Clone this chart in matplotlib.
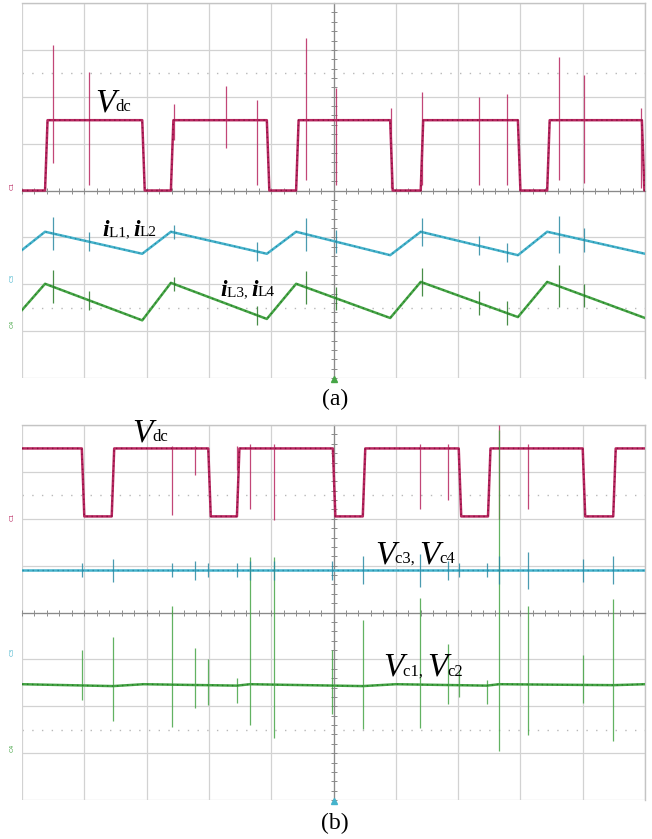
import numpy as np
import matplotlib.pyplot as plt
from matplotlib.ticker import MultipleLocator
from matplotlib.offsetbox import TextArea, HPacker, AnnotationBbox

# time axis in scope divisions (10 div), amplitude in divisions (+-4 div)

# ---- (a) Vdc and inductor currents ----
vdc_a_rise = [0.37, 2.39, 4.40, 6.40, 8.43]
vdc_a_fall = [1.93, 3.93, 5.91, 7.96, 9.95]
vdc_a_lo, vdc_a_hi = 0.0, 1.50
vdc_a_spk_t = [0.50, 1.08, 2.44, 3.27, 3.77, 4.56, 5.04, 5.92, 6.42, 7.34, 7.78, 8.62, 9.02, 9.94]
vdc_a_spk_hi = [3.10, 2.53, 1.84, 2.23, 1.93, 3.25, 2.19, 1.76, 2.10, 1.99, 2.06, 2.85, 2.46, 1.76]
vdc_a_spk_lo = [0.59, 0.12, 1.08, 0.91, 0.12, 0.22, 0.12, 0.05, 0.12, 0.12, 0.12, 0.22, 0.16, 0.05]

il_t = [0.0, 0.37, 1.93, 2.39, 3.93, 4.40, 5.91, 6.40, 7.96, 8.43, 10.0]
il12 = [-1.27, -0.88, -1.35, -0.88, -1.35, -0.88, -1.38, -0.88, -1.38, -0.88, -1.35]
il34 = [-2.55, -1.99, -2.77, -1.97, -2.74, -1.99, -2.72, -1.95, -2.70, -1.95, -2.72]
il_spk_t = [0.50, 1.08, 2.44, 3.77, 4.56, 5.04, 6.42, 7.34, 7.78, 8.62, 9.02]
il12_spk = [0.35, 0.20, 0.15, 0.20, 0.35, 0.25, 0.30, 0.20, 0.20, 0.40, 0.25]
il34_spk = [0.35, 0.20, 0.15, 0.20, 0.35, 0.25, 0.30, 0.25, 0.25, 0.45, 0.25]

# ---- (b) Vdc and capacitor voltages ----
vdc_b_rise = [1.44, 3.45, 5.47, 7.48, 9.49]
vdc_b_fall = [0.96, 2.99, 4.99, 7.01, 9.00]
vdc_b_lo, vdc_b_hi = 2.05, 3.50
vdc_b_spk_t = [2.41, 2.78, 3.45, 3.66, 4.04, 6.39, 6.84, 7.66, 8.12]
vdc_b_spk_hi = [3.55, 3.55, 3.55, 3.60, 3.60, 3.60, 3.60, 4.00, 3.60]
vdc_b_spk_lo = [2.09, 2.94, 3.05, 2.20, 1.98, 2.20, 2.41, 2.00, 2.20]

vc34_t = [0.0, 10.0]
vc34 = [0.90, 0.90]
vc12_t = [0.0, 1.46, 1.95, 3.45, 3.66, 5.47, 6.00, 7.46, 7.66, 9.49, 10.0]
vc12 = [-1.53, -1.57, -1.53, -1.56, -1.53, -1.57, -1.53, -1.56, -1.53, -1.55, -1.53]

vc_spk_t = [0.96, 1.46, 2.41, 2.78, 2.99, 3.45, 3.66, 4.04, 4.98,
            5.47, 6.39, 6.84, 7.01, 7.46, 7.66, 8.12, 9.00, 9.49]
vc12_spk_hi = [-0.79, -0.53, 0.13, -0.75, -1.00, -1.39, 1.19, 1.19, -0.79,
               -0.15, 0.32, -0.68, -1.22, -1.43, 3.90, 0.13, -0.90, 0.28]
vc12_spk_lo = [-1.86, -2.32, -2.45, -2.03, -1.98, -1.92, -2.39, -2.67, -2.17,
               -2.49, -2.47, -1.96, -1.81, -1.96, -2.96, -2.62, -1.92, -2.75]
vc34_spk = [0.15, 0.25, 0.15, 0.20, 0.15, 0.15, 0.20, 0.20, 0.20,
            0.30, 0.35, 0.20, 0.15, 0.15, 0.30, 0.40, 0.25, 0.30]

MAG, MAG_D = '#b8265f', '#861240'
CYA, CYA_D = '#45b3cc', '#2a8aa3'
GRN, GRN_D = '#46a546', '#287a28'

W, H = 652, 839
fig = plt.figure(figsize=(W / 100, H / 100), dpi=100)


def scope_axes(top_px, bot_px):
    ax = fig.add_axes([22 / W, 1 - bot_px / H, 623 / W, (bot_px - top_px) / H])
    ax.set_xlim(0, 10)
    ax.set_ylim(-4, 4)
    ax.xaxis.set_major_locator(MultipleLocator(1))
    ax.yaxis.set_major_locator(MultipleLocator(1))
    ax.xaxis.set_minor_locator(MultipleLocator(0.2))
    ax.yaxis.set_minor_locator(MultipleLocator(0.2))
    ax.grid(which='major', color='#d2d2d2', lw=0.9)
    ax.spines['left'].set_position(('data', 5))
    ax.spines['bottom'].set_position(('data', 0))
    for s in ['left', 'bottom']:
        ax.spines[s].set_color('#8a8a8a')
        ax.spines[s].set_linewidth(0.9)
    for s in ['top', 'right']:
        ax.spines[s].set_color('#c4c4c4')
        ax.spines[s].set_linewidth(1.0)
    ax.tick_params(which='both', direction='inout', length=4, width=0.7,
                   color='#8a8a8a', labelbottom=False, labelleft=False)
    for yd in (2.5, -2.5):
        ax.axhline(yd, color='#b8b8b8', lw=1.0, ls=(0, (1, 6)), zorder=1)
    return ax


def square(rise, fall, lo, hi, start_high):
    t, y = [0.0], [hi if start_high else lo]
    edges = sorted([(r, 1) for r in rise] + [(f, 0) for f in fall])
    for te, up in edges:
        a, b = (lo, hi) if up else (hi, lo)
        t += [te, te + 0.04]
        y += [a, b]
    t.append(10.0)
    y.append(y[-1])
    return t, y


def trace(ax, t, y, c, cd):
    # thick trace with a dotted darker core for the sampled ripple look
    ax.plot(t, y, color=c, lw=1.8, zorder=3)
    ax.plot(t, y, color=cd, lw=1.0, ls=(0, (1.0, 2.6)), zorder=3.1)


def spikes(ax, t, lo, hi, c):
    ax.vlines(t, lo, hi, color=c, lw=0.9, alpha=0.85, zorder=3)


def chan_tag(ax, yd, name, c):
    ax.text(-0.012, yd, name, transform=ax.get_yaxis_transform(), rotation=90,
            fontsize=4.5, color=c, ha='right', va='center')


def label(parts, x_px, y_px):
    boxes = []
    for s, fs, style, weight in parts:
        boxes.append(TextArea(s, textprops=dict(family='Liberation Serif', size=fs,
                                                style=style, weight=weight)))
    pack = HPacker(children=boxes, align='baseline', pad=0, sep=0)
    ab = AnnotationBbox(pack, (x_px, H - y_px), xycoords='figure pixels',
                        box_alignment=(0, 0), frameon=False, pad=0)
    fig.add_artist(ab)


# panel (a)
ax1 = scope_axes(3, 378)
t, y = square(vdc_a_rise, vdc_a_fall, vdc_a_lo, vdc_a_hi, False)
trace(ax1, t, y, MAG, MAG_D)
spikes(ax1, vdc_a_spk_t, vdc_a_spk_lo, vdc_a_spk_hi, MAG)
trace(ax1, il_t, il12, CYA, CYA_D)
trace(ax1, il_t, il34, GRN, GRN_D)
c12 = np.interp(il_spk_t, il_t, il12)
c34 = np.interp(il_spk_t, il_t, il34)
spikes(ax1, il_spk_t, c12 - np.array(il12_spk), c12 + np.array(il12_spk), CYA_D)
spikes(ax1, il_spk_t, c34 - np.array(il34_spk), c34 + np.array(il34_spk), GRN_D)
chan_tag(ax1, 0.1, 'C1', MAG)
chan_tag(ax1, -1.87, 'C3', CYA)
chan_tag(ax1, -2.85, 'C4', GRN)
ax1.plot([5], [-4.03], marker='^', ms=4, color=GRN, clip_on=False, zorder=4)

# panel (b)
ax2 = scope_axes(425, 800)
t, y = square(vdc_b_rise, vdc_b_fall, vdc_b_lo, vdc_b_hi, True)
trace(ax2, t, y, MAG, MAG_D)
spikes(ax2, vdc_b_spk_t, vdc_b_spk_lo, vdc_b_spk_hi, MAG)
trace(ax2, vc34_t, vc34, CYA, CYA_D)
trace(ax2, vc12_t, vc12, GRN, GRN_D)
spikes(ax2, vc_spk_t, vc12_spk_lo, vc12_spk_hi, GRN)
c3 = np.interp(vc_spk_t, vc34_t, vc34)
spikes(ax2, vc_spk_t, c3 - np.array(vc34_spk), c3 + np.array(vc34_spk), CYA_D)
chan_tag(ax2, 2.05, 'C1', MAG)
chan_tag(ax2, -0.83, 'C3', CYA)
chan_tag(ax2, -2.88, 'C4', GRN)
ax2.plot([5], [-4.03], marker='^', ms=4, color=CYA, clip_on=False, zorder=4)

# trace labels
V = ('V', 24, 'italic', 'normal')
I = ('i', 17, 'italic', 'bold')
label([V, ('dc', 12, 'normal', 'normal')], 95, 118)
label([I, ('L1, ', 11, 'normal', 'normal'), I, ('L2', 11, 'normal', 'normal')], 102, 241)
label([I, ('L3, ', 11, 'normal', 'normal'), I, ('L4', 11, 'normal', 'normal')], 220, 301)
label([V, ('dc', 12, 'normal', 'normal')], 132, 448)
label([V, ('c3, ', 12, 'normal', 'normal'), V, ('c4', 12, 'normal', 'normal')], 375, 570)
label([V, ('c1, ', 12, 'normal', 'normal'), V, ('c2', 12, 'normal', 'normal')], 383, 683)

fig.text(335 / W, 1 - 399 / H, '(a)', family='Liberation Serif', size=17,
         ha='center', va='center')
fig.text(335 / W, 1 - 823 / H, '(b)', family='Liberation Serif', size=17,
         ha='center', va='center')

fig.savefig('out.png', dpi=100, facecolor='white')
